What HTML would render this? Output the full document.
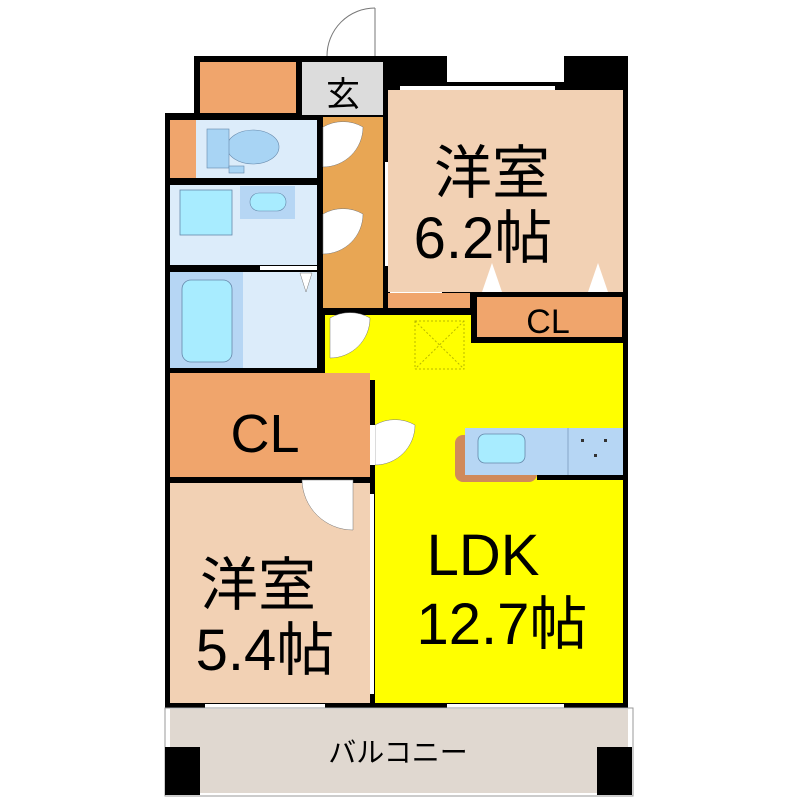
<!DOCTYPE html>
<html><head><meta charset="utf-8"><style>body{margin:0;background:#fff}svg{display:block}</style></head><body>
<svg width="800" height="800" xmlns="http://www.w3.org/2000/svg" font-family="Liberation Sans, Noto Sans CJK JP, sans-serif">
<rect width="800" height="800" fill="#fff"/>
<path d="M375 8 A48 48 0 0 0 327 56" fill="none" stroke="#777"/>
<line x1="375" y1="8" x2="375" y2="58" stroke="#777"/>
<rect x="194" y="56" width="190" height="62" fill="#000"/>
<rect x="165" y="113" width="225" height="262" fill="#000"/>
<rect x="383" y="56" width="64" height="80" fill="#000"/>
<rect x="564" y="56" width="64" height="60" fill="#000"/>
<rect x="442" y="82" width="186" height="628" fill="#000"/>
<rect x="165" y="300" width="463" height="410" fill="#000"/>
<rect x="200" y="62" width="96" height="51" fill="#f0a56c"/>
<rect x="302" y="62" width="81" height="53" fill="#dcdcdc"/>
<text x="343" y="106" font-size="34" text-anchor="middle" fill="#000">玄</text>
<rect x="388" y="90" width="235" height="202" fill="#f2d1b4"/>
<rect x="400" y="86" width="95" height="4" fill="#fff"/><rect x="495" y="86" width="60" height="4" fill="#fff"/>
<text x="492" y="193" font-size="58" text-anchor="middle" fill="#000">洋室</text>
<text x="483" y="258" font-size="58" text-anchor="middle" fill="#000">6.2帖</text>
<polygon points="482,292 492,263 502,292" fill="#fff"/>
<polygon points="588,292 598,263 608,292" fill="#fff"/>
<rect x="388" y="293" width="82" height="15" fill="#f0a56c"/>
<rect x="477" y="297" width="145" height="40" fill="#f0a56c"/>
<text x="548" y="333" font-size="34" text-anchor="middle" fill="#000">CL</text>
<rect x="323" y="117" width="60" height="191" fill="#e8a654"/>
<rect x="385" y="162" width="3" height="104" fill="#fff"/>
<path d="M323 127 A40 40 0 0 1 363 127 A40 40 0 0 1 323 167Z" fill="#fff" stroke="#777" stroke-width="0.5"/>
<path d="M323 214 A40 40 0 0 1 363 214 A40 40 0 0 1 323 254Z" fill="#fff" stroke="#777" stroke-width="0.5"/>
<rect x="170" y="120" width="26" height="58" fill="#f0a56c"/>
<rect x="196" y="120" width="121" height="58" fill="#dcecfa"/>
<ellipse cx="253" cy="147" rx="26" ry="17" fill="#a8d4f4" stroke="#6688aa" stroke-width="0.6"/>
<rect x="207" y="129" width="22" height="39" fill="#a8d4f4" stroke="#6688aa" stroke-width="0.6"/>
<rect x="229" y="166" width="15" height="7" fill="#a8d4f4" stroke="#6688aa" stroke-width="0.6"/>
<rect x="170" y="185" width="147" height="80" fill="#dcecfa"/>
<rect x="180" y="190" width="52" height="45" fill="#a8ecff" stroke="#6688aa" stroke-width="0.8"/>
<rect x="240" y="186" width="55" height="33" fill="#b6d6f4"/>
<rect x="250" y="193" width="36" height="18" rx="9" fill="#a8ecff" stroke="#6688aa" stroke-width="0.6"/>
<rect x="170" y="272" width="147" height="96" fill="#dcecfa"/>
<rect x="170" y="272" width="73" height="96" fill="#b6d6f4"/>
<rect x="182" y="280" width="50" height="82" rx="9" fill="#a8ecff" stroke="#6688aa" stroke-width="0.8"/>
<rect x="260" y="266" width="57" height="4" fill="#fff"/>
<polygon points="300,273 312,273 306,292" fill="#fff" stroke="#777" stroke-width="0.5"/>
<!-- LDK -->
<rect x="325" y="315" width="146" height="65" fill="#ffff00"/>
<rect x="375" y="343" width="248" height="360" fill="#ffff00"/>
<path d="M330 318 A40 40 0 0 1 370 318 A40 40 0 0 1 330 358Z" fill="#fff" stroke="#777" stroke-width="0.5"/>
<rect x="415" y="321" width="49" height="48" fill="none" stroke="#b8b800" stroke-dasharray="2,2"/>
<line x1="415" y1="321" x2="464" y2="369" stroke="#b8b800" stroke-dasharray="2,2"/>
<line x1="464" y1="321" x2="415" y2="369" stroke="#b8b800" stroke-dasharray="2,2"/>
<rect x="455" y="435" width="82" height="47" rx="8" fill="#d08a5a"/>
<rect x="465" y="428" width="158" height="47" fill="#b6d6f4"/>
<line x1="568" y1="428" x2="568" y2="475" stroke="#6688aa" stroke-width="0.6"/>
<rect x="478" y="434" width="47" height="29" rx="7" fill="#a8ecff" stroke="#6688aa" stroke-width="0.8"/>
<rect x="581" y="439" width="3" height="3" fill="#333"/><rect x="604" y="439" width="3" height="3" fill="#333"/><rect x="594" y="454" width="3" height="3" fill="#333"/>
<rect x="537" y="475" width="86" height="5" fill="#000"/>
<text x="483" y="575" font-size="58" text-anchor="middle" fill="#000">LDK</text>
<text x="502" y="644" font-size="58" text-anchor="middle" fill="#000">12.7帖</text>
<rect x="170" y="373" width="200" height="104" fill="#f0a56c"/>
<text x="265" y="452" font-size="54" text-anchor="middle" fill="#000">CL</text>
<path d="M375 425 A40 40 0 0 1 415 425 A40 40 0 0 1 375 465Z" fill="#fff" stroke="#777" stroke-width="0.5"/>
<rect x="370" y="425" width="5" height="40" fill="#fff"/>
<rect x="170" y="483" width="200" height="220" fill="#f2d1b4"/>
<rect x="370" y="494" width="4" height="200" fill="#fff"/>
<path d="M302 480 L353 480 L353 530 A51 51 0 0 1 302 480Z" fill="#fff" stroke="#777" stroke-width="0.5"/>
<text x="258" y="605" font-size="58" text-anchor="middle" fill="#000">洋室</text>
<text x="265" y="670" font-size="58" text-anchor="middle" fill="#000">5.4帖</text>
<rect x="205" y="704" width="120" height="4" fill="#fff"/>
<rect x="447" y="704" width="117" height="4" fill="#fff"/>
<rect x="165" y="708" width="468" height="88" fill="#fff" stroke="#999" stroke-width="1"/>
<rect x="170" y="709" width="458" height="84" fill="#e0d8d0"/>
<rect x="165" y="747" width="35" height="48" fill="#000"/>
<rect x="597" y="747" width="35" height="48" fill="#000"/>
<text x="398" y="762" font-size="28" text-anchor="middle" fill="#000">バルコニー</text>
</svg>
</body></html>
